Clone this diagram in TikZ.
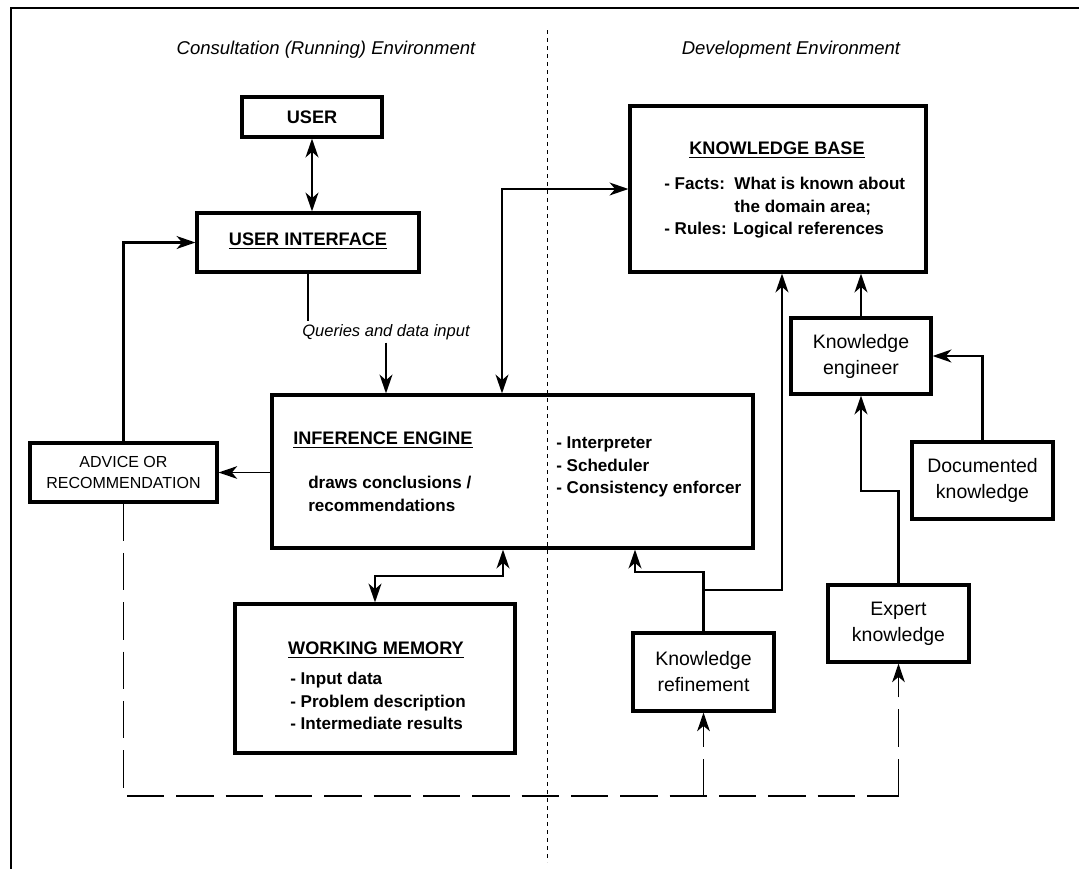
\documentclass[tikz,border=0pt]{standalone}
\usepackage{fontspec}
\setmainfont{Liberation Sans}
\usetikzlibrary{arrows.meta,fit}

% bold heading with a heavy underline
\newcommand{\hd}[1]{\setbox0=\hbox{#1}\rlap{\rule[-2.6pt]{\wd0}{1.1pt}}\box0}

\begin{document}
\begin{tikzpicture}[x=0.75pt,y=-0.75pt,
  >={Stealth[length=14pt,width=9.5pt,inset=4pt]},
  box/.style={draw, line width=2.3pt, inner sep=0pt},
  hdr/.style={inner sep=0pt, font=\fontsize{13.6}{16}\selectfont\bfseries},
  body/.style={inner sep=0pt, align=left, font=\fontsize{12.8}{16.9}\selectfont\bfseries},
  small/.style={inner sep=0pt, align=center, font=\fontsize{14.6}{19.5}\selectfont},
  title/.style={font=\fontsize{13.9}{16}\selectfont\itshape},
  conn/.style={line width=2.2pt},
  thin/.style={line width=1pt},
  dsh/.style={line width=0.9pt, dash pattern=on 28pt off 9pt},
]
\useasboundingbox (0,0) rectangle (1079,869);

% frame and the divider between the two environments
\draw[line width=1.9pt] (1079,8) -- (11,8) -- (11,869);
\draw[line width=0.7pt, dash pattern=on 3pt off 3pt] (547,30) -- (547,862);

\node[title] (tcons) at (326,50) {Consultation (Running) Environment};
\node[title] (tdev) at (791,50) {Development Environment};

% boxes
\node[box, fit={(242,97)(382,137)}] (user) {};
\node[box, fit={(197,213)(419,272)}] (ui) {};
\node[box, fit={(272,395)(753,548)}] (ie) {};
\node[box, fit={(630,106)(926,272)}] (kb) {};
\node[box, fit={(235,604)(515,753)}] (wm) {};
\node[box, fit={(30,443)(217,502)}] (adv) {};
\node[box, fit={(791,318)(931,394)}] (ke) {};
\node[box, fit={(912,442)(1053,519)}] (dk) {};
\node[box, fit={(828,585)(969,662)}] (ek) {};
\node[box, fit={(633,633)(774,711)}] (kr) {};

% box texts
\node[hdr] (usert) at (user.center) {USER};
\node[hdr] (uit) at ([yshift=1pt]ui.center) {\hd{USER INTERFACE}};
\node[inner sep=0pt, align=center, font=\fontsize{12}{15.75}\selectfont]
  (advt) at (adv.center) {ADVICE OR\\RECOMMENDATION};
\node[small] (ket) at (ke.center) {Knowledge\\engineer};
\node[small] (dkt) at (dk.center) {Documented\\knowledge};
\node[small] (ekt) at (ek.center) {Expert\\knowledge};
\node[small] (krt) at (kr.center) {Knowledge\\refinement};

\node[hdr, anchor=west] (iet) at (293,440) {\hd{INFERENCE ENGINE}};
\node[body, anchor=west] (ied) at (308,494) {draws conclusions /\\recommendations};
\node[body, anchor=west] (iel) at (556,467) {- Interpreter\\- Scheduler\\- Consistency enforcer};
\node[hdr] (kbt) at (777,150) {\hd{KNOWLEDGE BASE}};
\node[body, anchor=west] (kbl) at (664,208)
  {- Facts:\ \ What is known about\\\phantom{- Facts:\ \ }the domain area;\\- Rules: Logical references};
\node[hdr] (wmt) at (376,650) {\hd{WORKING MEMORY}};
\node[body, anchor=west] (wml) at (290,701) {- Input data\\- Problem description\\- Intermediate results};

\node[inner sep=2pt, font=\fontsize{12.4}{14}\selectfont\itshape] (q) at (386,332) {Queries and data input};

% bend points
\coordinate (j1) at (502,188);
\coordinate (j2) at (503,576);
\coordinate (j3) at (703,572);
\coordinate (j4) at (635,572);
\coordinate (j5) at (782,590);
\coordinate (j6) at (861,491);
\coordinate (d1) at (123,796);

% connectors
\draw[conn,<->] (user.south) -- (user.south |- ui.north);
\draw[conn,->] (adv.north) |- (ui.west);
\draw[conn] (ui.south) -- (ui.south |- q.north);
\draw[conn,->] (q.south) -- (q.south |- ie.north);
\draw[conn,<->] (ie.north -| j1) |- (kb.west);
\draw[thin,->] (ie.west |- adv.east) -- (adv.east);
\draw[conn,<->] (wm.north) |- (j2) -- (ie.south -| j2);
\draw[conn,->] (kr.north) -- (kr.north |- j3) -- (j4) -- (ie.south -| j4);
\draw[conn,->] (kr.north |- j5) -- (j5) -- (kb.south -| j5);
\draw[conn,->] (ke.north) -- (kb.south -| ke.north);
\draw[conn,->] (dk.north) |- (ke.east);
\draw[conn,->] (ek.north) |- (j6) -- (ke.south);

% feedback path
\draw[dsh] (adv.south) -- (adv.south |- d1) -- (ek.south |- d1);
\draw[dsh,->] (kr.south |- d1) -- (kr.south);
\draw[dsh,->] (ek.south |- d1) -- (ek.south);
\end{tikzpicture}
\end{document}
